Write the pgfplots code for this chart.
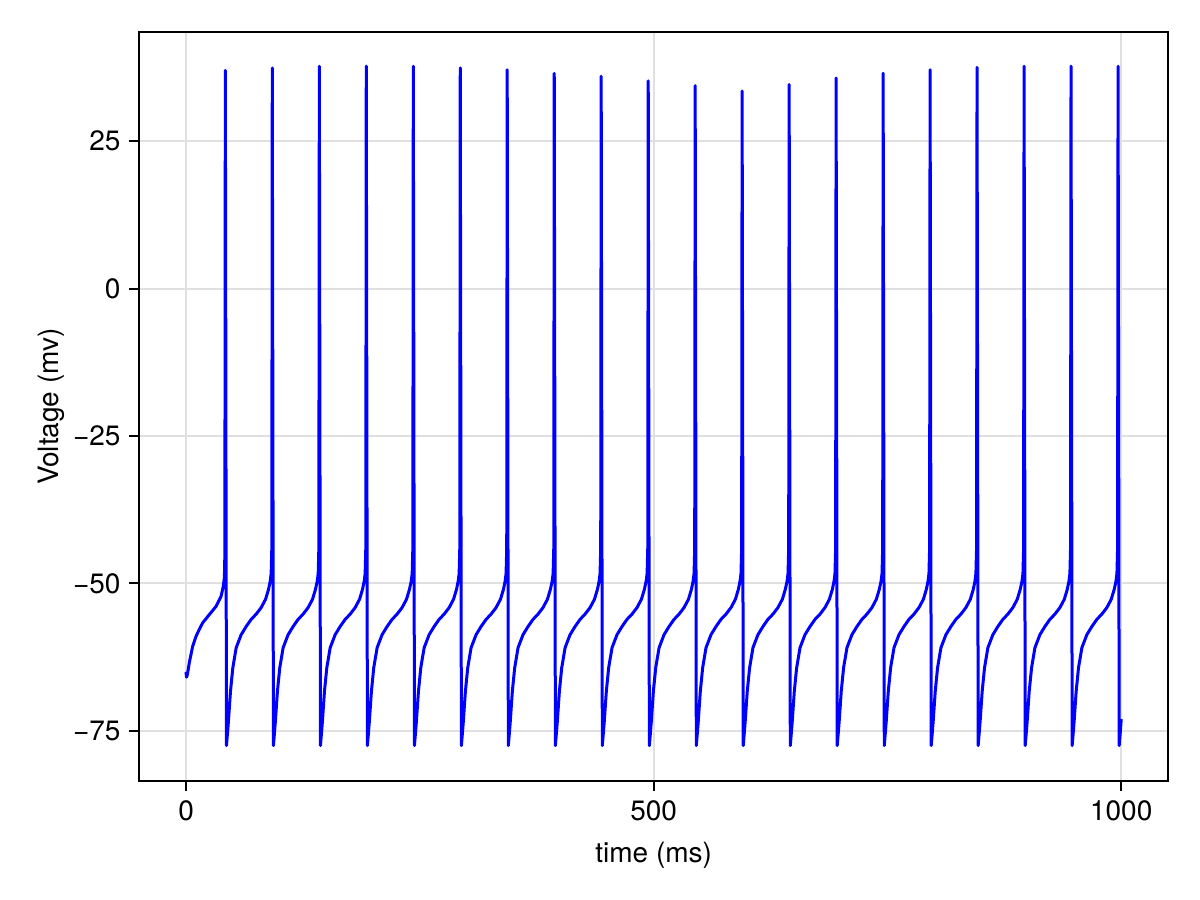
\documentclass[border=0pt]{standalone}
\usepackage{fontspec}
\setmainfont{TeX Gyre Heros}
\usepackage{pgfplots}
\pgfplotsset{compat=1.18}
\begin{document}
\fontsize{14pt}{16.8pt}\selectfont
\begin{tikzpicture}
\useasboundingbox (0,0) rectangle (600pt,450pt);
\begin{axis}[
  at={(69.65pt,59.5pt)}, anchor=south west,
  scale only axis, width=514.35pt, height=374.5pt,
  xmin=-50, xmax=1050, ymin=-83.5, ymax=43.5,
  xtick={0,500,1000}, xticklabels={0,500,1000},
  ytick={-75,-50,-25,0,25}, yticklabels={−75,−50,−25,0,25},
  tick align=outside, major tick length=5pt,
  every tick/.style={black, line width=1pt},
  xtick pos=bottom, ytick pos=left,
  axis line style={line width=1pt},
  grid=major, major grid style={black!12, line width=1pt},
  xticklabel style={inner sep=0pt, anchor=north, yshift=-4.5pt},
  yticklabel style={inner sep=0pt, anchor=east, xshift=-4.2pt},
  every axis x label/.style={at={(axis description cs:0.5,-0.0988)}, anchor=center},
  every axis y label/.style={at={(axis description cs:-0.0859,0.5)}, anchor=center, rotate=90},
  xlabel={time (ms)}, ylabel={Voltage (mv)},
  tick label style={font=\fontsize{14pt}{16.8pt}\selectfont},
  label style={font=\fontsize{14pt}{16.8pt}\selectfont},
]
\addplot[color={rgb,1:red,0;green,0;blue,1}, line width=1.5pt, line join=round] table {
t v
0.0 -65.0
0.4 -65.9
1.2 -65.6
2.2 -64.7
3.4 -63.5
5.2 -62.1
7.0 -60.7
10.6 -59.0
14.1 -57.8
17.7 -56.7
24.8 -55.3
32.0 -53.9
37.4 -52.2
39.8 -50.5
41.0 -49.0
41.5 -45.0
42.0 37.0
43.2 -77.5
44.2 -75.6
45.3 -73.4
47.5 -68.3
50.0 -64.3
53.6 -60.9
58.9 -58.7
64.3 -57.3
69.6 -56.1
75.0 -55.2
80.3 -54.1
85.0 -52.7
88.2 -51.0
90.0 -49.6
91.0 -48.3
91.7 -44.0
92.2 37.4
93.4 -77.5
94.4 -75.6
95.5 -73.4
97.7 -68.3
100.2 -64.3
103.8 -60.9
109.1 -58.7
114.5 -57.3
119.8 -56.1
125.2 -55.2
130.5 -54.1
135.2 -52.7
138.4 -51.0
140.3 -49.6
141.3 -48.3
142.0 -44.0
142.5 37.7
143.7 -77.5
144.7 -75.6
145.8 -73.4
148.0 -68.3
150.5 -64.3
154.1 -60.9
159.4 -58.7
164.8 -57.3
170.1 -56.1
175.5 -55.2
180.8 -54.1
185.5 -52.7
188.7 -51.0
190.5 -49.6
191.5 -48.3
192.2 -44.0
192.7 37.7
193.9 -77.5
194.9 -75.6
196.0 -73.4
198.2 -68.3
200.7 -64.3
204.3 -60.9
209.6 -58.7
215.0 -57.3
220.3 -56.1
225.7 -55.2
231.0 -54.1
235.7 -52.7
238.9 -51.0
240.8 -49.6
241.8 -48.3
242.5 -44.0
243.0 37.7
244.2 -77.5
245.2 -75.6
246.3 -73.4
248.5 -68.3
251.0 -64.3
254.6 -60.9
259.9 -58.7
265.3 -57.3
270.6 -56.1
276.0 -55.2
281.3 -54.1
286.0 -52.7
289.2 -51.0
291.0 -49.6
292.0 -48.3
292.7 -44.0
293.2 37.4
294.4 -77.5
295.4 -75.6
296.5 -73.4
298.7 -68.3
301.2 -64.3
304.8 -60.9
310.1 -58.7
315.5 -57.3
320.8 -56.1
326.2 -55.2
331.5 -54.1
336.2 -52.7
339.4 -51.0
341.2 -49.6
342.2 -48.3
342.9 -44.0
343.4 37.1
344.6 -77.5
345.6 -75.6
346.7 -73.4
348.9 -68.3
351.4 -64.3
355.0 -60.9
360.3 -58.7
365.7 -57.3
371.0 -56.1
376.4 -55.2
381.7 -54.1
386.4 -52.7
389.6 -51.0
391.5 -49.6
392.5 -48.3
393.2 -44.0
393.7 36.5
394.9 -77.5
395.9 -75.6
397.0 -73.4
399.2 -68.3
401.7 -64.3
405.3 -60.9
410.6 -58.7
416.0 -57.3
421.3 -56.1
426.7 -55.2
432.0 -54.1
436.7 -52.7
439.9 -51.0
441.7 -49.6
442.7 -48.3
443.4 -44.0
443.9 36.0
445.1 -77.5
446.1 -75.6
447.2 -73.4
449.4 -68.3
451.9 -64.3
455.5 -60.9
460.8 -58.7
466.2 -57.3
471.5 -56.1
476.9 -55.2
482.2 -54.1
486.9 -52.7
490.1 -51.0
492.0 -49.6
493.0 -48.3
493.7 -44.0
494.2 35.2
495.4 -77.5
496.4 -75.6
497.5 -73.4
499.7 -68.3
502.2 -64.3
505.8 -60.9
511.1 -58.7
516.5 -57.3
521.8 -56.1
527.2 -55.2
532.5 -54.1
537.2 -52.7
540.4 -51.0
542.2 -49.6
543.2 -48.3
543.9 -44.0
544.4 34.4
545.6 -77.5
546.6 -75.6
547.7 -73.4
549.9 -68.3
552.4 -64.3
556.0 -60.9
561.3 -58.7
566.7 -57.3
572.0 -56.1
577.4 -55.2
582.7 -54.1
587.4 -52.7
590.6 -51.0
592.4 -49.6
593.4 -48.3
594.1 -44.0
594.6 33.5
595.8 -77.5
596.8 -75.6
597.9 -73.4
600.1 -68.3
602.6 -64.3
606.2 -60.9
611.5 -58.7
616.9 -57.3
622.2 -56.1
627.6 -55.2
632.9 -54.1
637.6 -52.7
640.8 -51.0
642.7 -49.6
643.7 -48.3
644.4 -44.0
644.9 34.6
646.1 -77.5
647.1 -75.6
648.2 -73.4
650.4 -68.3
652.9 -64.3
656.5 -60.9
661.8 -58.7
667.2 -57.3
672.5 -56.1
677.9 -55.2
683.2 -54.1
687.9 -52.7
691.1 -51.0
692.9 -49.6
693.9 -48.3
694.6 -44.0
695.1 35.7
696.3 -77.5
697.3 -75.6
698.4 -73.4
700.6 -68.3
703.1 -64.3
706.7 -60.9
712.0 -58.7
717.4 -57.3
722.7 -56.1
728.1 -55.2
733.4 -54.1
738.1 -52.7
741.3 -51.0
743.2 -49.6
744.2 -48.3
744.9 -44.0
745.4 36.5
746.6 -77.5
747.6 -75.6
748.7 -73.4
750.9 -68.3
753.4 -64.3
757.0 -60.9
762.3 -58.7
767.7 -57.3
773.0 -56.1
778.4 -55.2
783.7 -54.1
788.4 -52.7
791.6 -51.0
793.4 -49.6
794.4 -48.3
795.1 -44.0
795.6 37.1
796.8 -77.5
797.8 -75.6
798.9 -73.4
801.1 -68.3
803.6 -64.3
807.2 -60.9
812.5 -58.7
817.9 -57.3
823.2 -56.1
828.6 -55.2
833.9 -54.1
838.6 -52.7
841.8 -51.0
843.6 -49.6
844.6 -48.3
845.3 -44.0
845.8 37.5
847.0 -77.5
848.0 -75.6
849.1 -73.4
851.3 -68.3
853.8 -64.3
857.4 -60.9
862.7 -58.7
868.1 -57.3
873.4 -56.1
878.8 -55.2
884.1 -54.1
888.8 -52.7
892.0 -51.0
893.9 -49.6
894.9 -48.3
895.6 -44.0
896.1 37.7
897.3 -77.5
898.3 -75.6
899.4 -73.4
901.6 -68.3
904.1 -64.3
907.7 -60.9
913.0 -58.7
918.4 -57.3
923.7 -56.1
929.1 -55.2
934.4 -54.1
939.1 -52.7
942.3 -51.0
944.1 -49.6
945.1 -48.3
945.8 -44.0
946.3 37.7
947.5 -77.5
948.5 -75.6
949.6 -73.4
951.8 -68.3
954.3 -64.3
957.9 -60.9
963.2 -58.7
968.6 -57.3
973.9 -56.1
979.3 -55.2
984.6 -54.1
989.3 -52.7
992.5 -51.0
994.4 -49.6
995.4 -48.3
996.1 -44.0
996.6 37.7
997.8 -77.5
998.8 -75.6
1000.0 -73.0
};
\end{axis}
\end{tikzpicture}
\end{document}
